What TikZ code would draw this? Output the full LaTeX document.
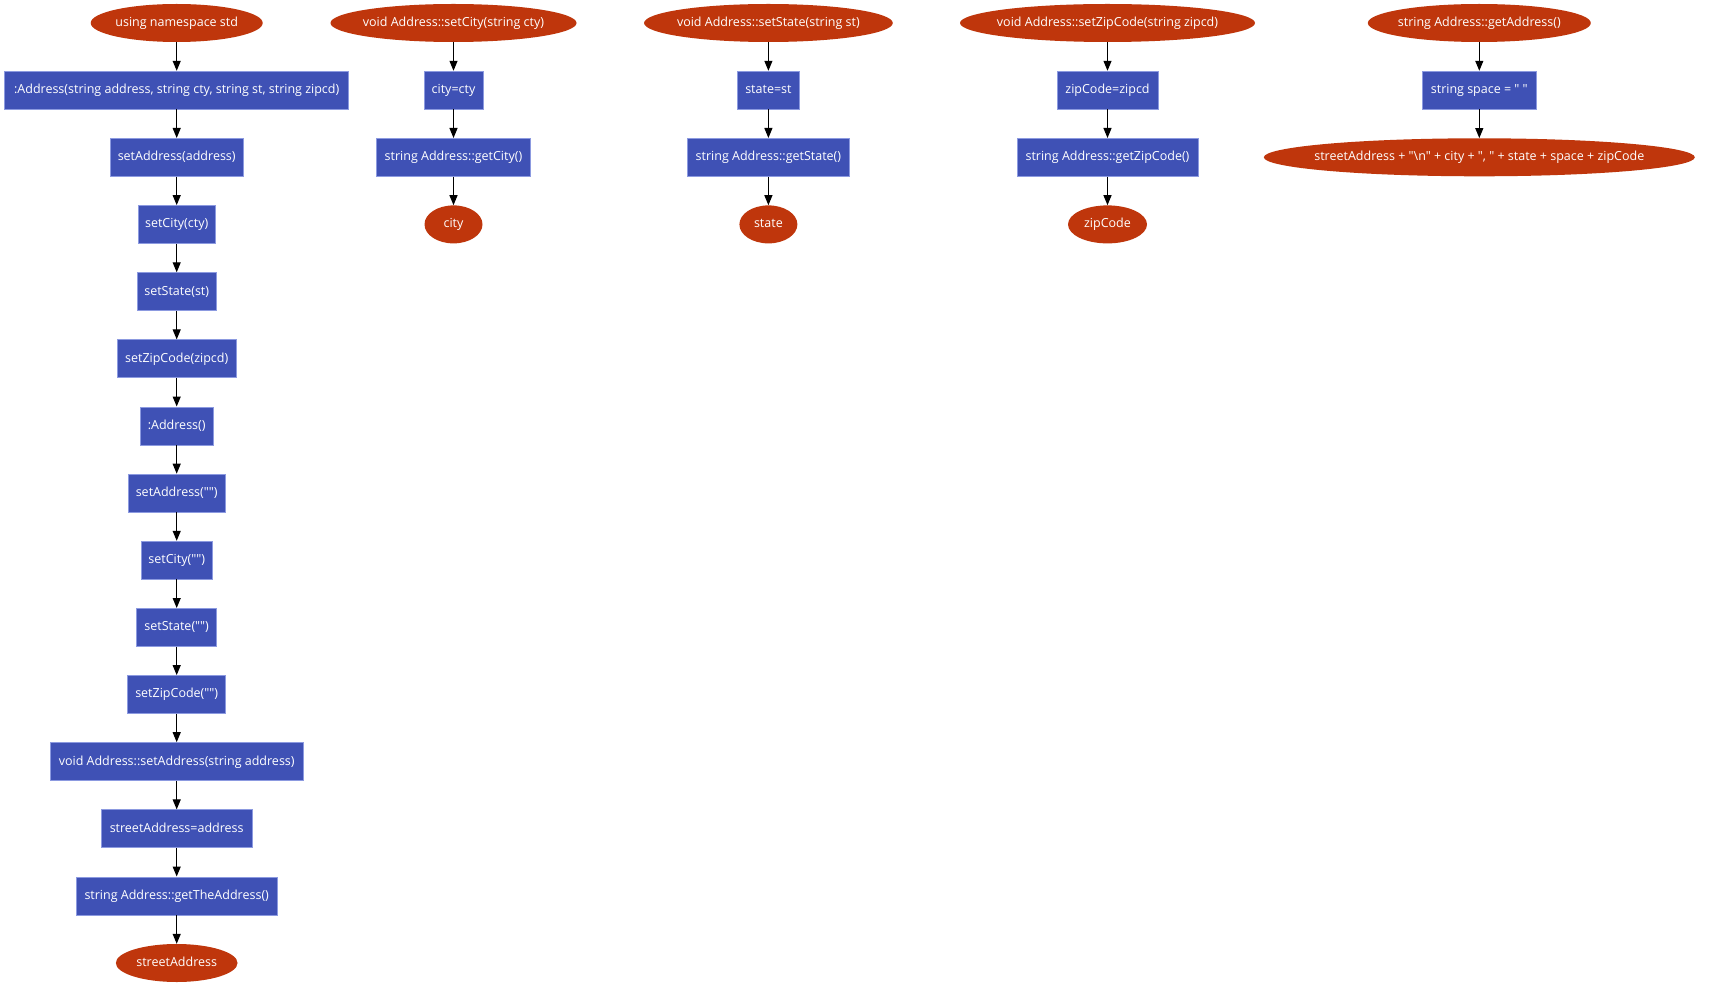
\documentclass[tikz,border=0pt]{standalone}
\usepackage{fontspec}
\setmainfont{Open Sans}[Ligatures=TeXOff]
\usetikzlibrary{shapes.geometric,arrows.meta}
\definecolor{nodered}{HTML}{BF360C}
\definecolor{nodeblue}{HTML}{3F51B5}
\definecolor{nodeedge}{HTML}{8C9AE0}
\tikzset{
  base/.style={text=white, font=\fontsize{12.5}{15}\selectfont, minimum height=38pt, text height=9.5pt, text depth=2.5pt},
  proc/.style={base, rectangle, fill=nodeblue, draw=nodeedge, line width=0.6pt, inner xsep=7pt, inner ysep=0pt, minimum width=#1pt},
  term/.style={base, ellipse, fill=nodered, draw=none, inner xsep=-15pt, inner ysep=0pt, minimum width=#1pt},
  flow/.style={-{Triangle[length=10pt,width=8pt]}, line width=1.1pt, black},
}
\begin{document}
\begin{tikzpicture}[x=1pt,y=-1pt]
\useasboundingbox[fill=white] (0,0) rectangle (1714,1000);
% column 1
\node[term=172]   (a0)  at (176.7,23.0)  {using namespace std};
\node[proc=344]   (a1)  at (176.7,90.1)  {:Address(string address, string cty, string st, string zipcd)};
\node[proc=133.7] (a2)  at (176.7,157.3) {setAddress(address)};
\node[proc=77.6]  (a3)  at (176.7,224.4) {setCity(cty)};
\node[proc=79.8]  (a4)  at (176.7,291.6) {setState(st)};
\node[proc=119]   (a5)  at (176.7,358.7) {setZipCode(zipcd)};
\node[proc=73]    (a6)  at (176.7,425.8) {:Address()};
\node[proc=97]    (a7)  at (176.7,493.0) {setAddress("")};
\node[proc=71]    (a8)  at (176.7,560.1) {setCity("")};
\node[proc=80]    (a9)  at (176.7,627.3) {setState("")};
\node[proc=98]    (a10) at (176.7,694.4) {setZipCode("")};
\node[proc=253.7] (a11) at (176.7,761.5) {void Address::setAddress(string address)};
\node[proc=151]   (a12) at (176.7,828.7) {streetAddress=address};
\node[proc=201.3] (a13) at (176.7,895.8) {string Address::getTheAddress()};
\node[term=121.7] (a14) at (176.7,963.0) {streetAddress};
\foreach \i [evaluate=\i as \j using int(\i+1)] in {0,...,13} {
  \draw[flow] (a\i) -- (a\j);
}
% column 2
\node[term=246]   (b0) at (453.5,23.0)  {void Address::setCity(string cty)};
\node[proc=59]    (b1) at (453.5,90.1)  {city=cty};
\node[proc=154]   (b2) at (453.5,157.3) {string Address::getCity()};
\node[term=58]    (b3) at (453.5,224.4) {city};
\draw[flow] (b0) -- (b1);
\draw[flow] (b1) -- (b2);
\draw[flow] (b2) -- (b3);
% column 3
\node[term=248.7] (c0) at (768.4,23.0)  {void Address::setState(string st)};
\node[proc=62]    (c1) at (768.4,90.1)  {state=st};
\node[proc=161.6] (c2) at (768.4,157.3) {string Address::getState()};
\node[term=58]    (c3) at (768.4,224.4) {state};
\draw[flow] (c0) -- (c1);
\draw[flow] (c1) -- (c2);
\draw[flow] (c2) -- (c3);
% column 4
\node[term=295]   (d0) at (1107.5,23.0)  {void Address::setZipCode(string zipcd)};
\node[proc=101]   (d1) at (1107.5,90.1)  {zipCode=zipcd};
\node[proc=181]   (d2) at (1107.5,157.3) {string Address::getZipCode()};
\node[term=79]    (d3) at (1107.5,224.4) {zipCode};
\draw[flow] (d0) -- (d1);
\draw[flow] (d1) -- (d2);
\draw[flow] (d2) -- (d3);
% column 5
\node[term=223]   (e0) at (1479.3,23.0)  {string Address::getAddress()};
\node[proc=113.7] (e1) at (1479.3,90.1)  {string space = " "};
\node[term=431]   (e2) at (1479.3,157.3) {streetAddress + "\textbackslash n" + city + ", " + state + space + zipCode};
\draw[flow] (e0) -- (e1);
\draw[flow] (e1) -- (e2);
\end{tikzpicture}
\end{document}
